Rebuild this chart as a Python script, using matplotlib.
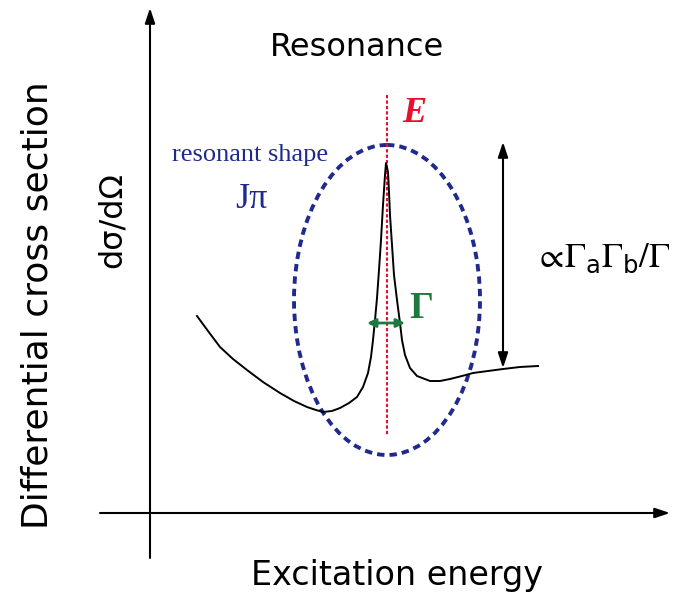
import matplotlib.pyplot as plt
from matplotlib.patches import Ellipse

plt.rcParams["mathtext.fontset"] = "custom"
plt.rcParams["mathtext.rm"] = "STIXGeneral"
plt.rcParams["mathtext.sf"] = "DejaVu Sans"

# cross-section curve (x, y in canvas pixels, y downward)
curve_x = [197, 208, 220, 233, 247, 263, 280, 294, 307, 316, 323, 332, 340, 349,
           357, 363, 368, 371, 373, 375, 377, 379, 381, 383, 385, 386, 388, 389,
           390, 392, 394, 397, 400, 402, 405, 410, 417, 430, 440, 450, 462, 473,
           488, 503, 520, 538]
curve_y = [316, 331, 347, 359, 370, 382, 393, 401, 407, 410, 412, 411, 408, 403,
           397, 387, 373, 357, 340, 320, 298, 270, 240, 205, 175, 163, 172, 192,
           215, 245, 275, 300, 323, 340, 355, 368, 376, 381, 381, 379, 376, 373,
           371, 369, 367, 366]

peak_x = 387                    # resonance energy E
gamma_left, gamma_right = 367, 405   # full width at half maximum
gamma_y = 323
height_top, height_bottom = 142, 368   # peak height arrow
shape_center = (387, 300)
shape_w, shape_h = 186, 310

BLUE = "#1f2a8c"
RED = "#e8102a"
GREEN = "#1d7a3e"
SANS = "DejaVu Sans"
SERIF = ["Liberation Serif", "DejaVu Serif"]

fig = plt.figure(figsize=(6.88, 6.04), dpi=100)
ax = fig.add_axes([0, 0, 1, 1])
ax.set_xlim(0, 688)
ax.set_ylim(604, 0)
ax.axis("off")

# axes with arrow heads
arr = dict(arrowstyle="-|>,head_length=0.9,head_width=0.3", color="black", lw=1.5,
           shrinkA=0, shrinkB=0)
ax.annotate("", xy=(150, 8), xytext=(150, 558), arrowprops=arr)
ax.annotate("", xy=(670, 513), xytext=(100, 513), arrowprops=arr)

# resonant shape
ax.add_patch(Ellipse(shape_center, shape_w, shape_h, fill=False, ec=BLUE, lw=2.8,
                     ls=(0, (1.9, 1.3))))

# resonance energy line
ax.plot([peak_x, peak_x], [95, 435], color=RED, lw=1.5, ls=(0, (1.6, 1.0)))

# cross section
ax.plot(curve_x, curve_y, color="black", lw=1.4, solid_joinstyle="round")

# width arrow
ax.annotate("", xy=(gamma_left, gamma_y), xytext=(gamma_right, gamma_y),
            arrowprops=dict(arrowstyle="<|-|>,head_length=0.5,head_width=0.25",
                            color=GREEN, lw=2, shrinkA=0, shrinkB=0))

# peak height arrow
ax.annotate("", xy=(503, height_top), xytext=(503, height_bottom),
            arrowprops=dict(arrowstyle="<|-|>,head_length=0.9,head_width=0.3",
                            color="black", lw=1.5, shrinkA=0, shrinkB=0))

# labels
ax.text(357, 48, "Resonance", family=SANS, fontsize=23, ha="center", va="center")
ax.text(38, 305, "Differential cross section", family=SANS, fontsize=26,
        rotation=90, ha="center", va="center")
ax.text(112, 220, "dσ/dΩ", family=SANS, fontsize=23, rotation=90,
        ha="center", va="center")
ax.text(397, 576, "Excitation energy", family=SANS, fontsize=24,
        ha="center", va="center")
ax.text(414, 114, "E", family=SERIF, fontsize=26, style="italic",
        weight="bold", color=RED, ha="center", va="center")
ax.text(250, 155, "resonant shape", family=SERIF, fontsize=19, color=BLUE,
        ha="center", va="center")
ax.text(251, 200, "Jπ", family=SERIF, fontsize=26, color=BLUE,
        ha="center", va="center")
ax.text(421, 309, "Γ", family=SERIF, fontsize=27, weight="bold", color=GREEN,
        ha="center", va="center")
ax.text(602, 258, r"$\propto\!\Gamma_{\mathsf{a}}\Gamma_{\mathsf{b}}/\Gamma$",
        fontsize=25, ha="center", va="center")

fig.savefig("out.png", dpi=100)
plt.close()
